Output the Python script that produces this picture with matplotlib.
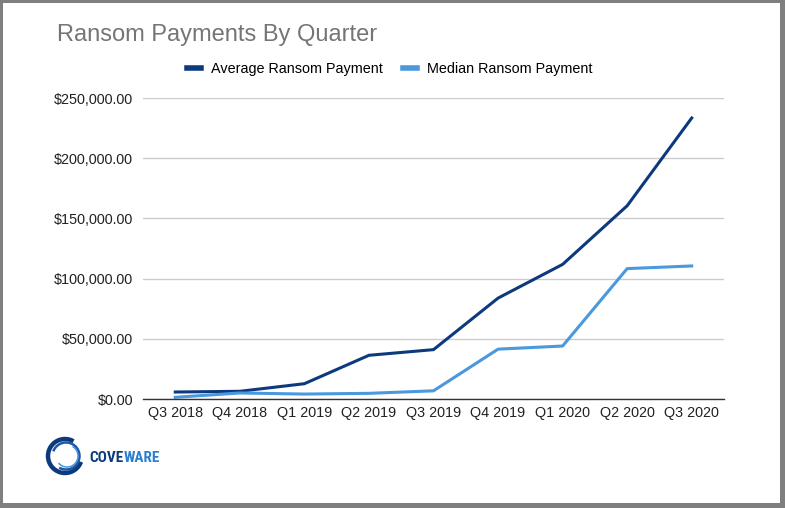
import matplotlib.pyplot as plt
from matplotlib import font_manager
from matplotlib.patches import Arc, Rectangle
from matplotlib.ticker import FuncFormatter

quarters = ['Q3 2018', 'Q4 2018', 'Q1 2019', 'Q2 2019', 'Q3 2019',
            'Q4 2019', 'Q1 2020', 'Q2 2020', 'Q3 2020']
average_payment = [5800, 6400, 12700, 36300, 41000, 83800, 111800, 160500, 233400]
median_payment = [1400, 5000, 4100, 4700, 6800, 41400, 44000, 108300, 110500]

plt.rcParams['font.family'] = ['Liberation Sans', 'DejaVu Sans']

# narrow bold face for the logo word
installed = {f.name for f in font_manager.fontManager.ttflist}
logo_font = 'Roboto'
for name in ['Roboto Condensed', 'Liberation Sans Narrow', 'DejaVu Sans Condensed']:
    if name in installed:
        logo_font = name
        break

W, H = 785, 508
fig = plt.figure(figsize=(W / 100, H / 100), dpi=100)

# gray frame
fig.patches.append(Rectangle((0, 0), 1, 1, transform=fig.transFigure,
                             facecolor='#7f7f7f', edgecolor='none', zorder=-2))
fig.patches.append(Rectangle((3 / W, 5 / H), (W - 8) / W, (H - 8) / H,
                             transform=fig.transFigure, facecolor='white',
                             edgecolor='none', zorder=-1))

ax = fig.add_axes([143 / W, 1 - 399 / H, (724 - 143) / W, (399 - 98) / H])
ax.set_facecolor('none')
x = range(len(quarters))
ax.plot(x, average_payment, color='#0c3a7c', lw=2.2, label='Average Ransom Payment')
ax.plot(x, median_payment, color='#4a98dd', lw=2.2, label='Median Ransom Payment')

ax.set_xlim(-0.5, len(quarters) - 0.5)
ax.set_ylim(0, 250000)
ax.set_yticks(range(0, 250001, 50000))
ax.yaxis.set_major_formatter(FuncFormatter(lambda v, p: f'${v:,.2f}'))
ax.set_xticks(list(x))
ax.set_xticklabels(quarters)
ax.tick_params(length=0, labelsize=10.4, colors='#222222', pad=5)
ax.tick_params(axis='y', pad=7)
ax.grid(axis='y', color='#cccccc', lw=1)
ax.set_axisbelow(True)
for s in ['top', 'right', 'left']:
    ax.spines[s].set_visible(False)
ax.spines['bottom'].set_color('#333333')
ax.spines['bottom'].set_linewidth(1)

fig.text(57 / W, 1 - 35 / H, 'Ransom Payments By Quarter', fontsize=17,
         color='#757575', va='center', ha='left')

leg = fig.legend(loc='center', bbox_to_anchor=(390 / W, 1 - 69 / H), ncol=2,
                 frameon=False, fontsize=10.4, handlelength=0.95,
                 handletextpad=0.7, columnspacing=1.4)
for h in leg.legend_handles:
    h.set_linewidth(4)

# logo
lax = fig.add_axes([0, 0, 1, 1])
lax.set_xlim(0, W)
lax.set_ylim(H, 0)
lax.axis('off')
cx, cy = 65, 456
lax.add_patch(Arc((cx, cy), 34, 34, theta1=20, theta2=300, color='#0c3a7c', lw=3.2))
lax.add_patch(Arc((cx + 1, cy), 27, 27, theta1=200, theta2=480, color='#1a5aa8', lw=1.8))
lax.add_patch(Arc((cx + 2, cy), 22, 22, theta1=-60, theta2=140, color='#4a98dd', lw=1.1))
cove = lax.text(89, 458, 'COVE', fontsize=11, fontweight='bold', color='#0c3a7c',
                va='center', ha='left', family=logo_font)
lax.annotate('WARE', xycoords=cove, xy=(1, 0.5), xytext=(0, 0),
             textcoords='offset points', fontsize=11, fontweight='bold',
             color='#2a7fd0', va='center', ha='left', family=logo_font)

fig.savefig('out.png', dpi=100)
